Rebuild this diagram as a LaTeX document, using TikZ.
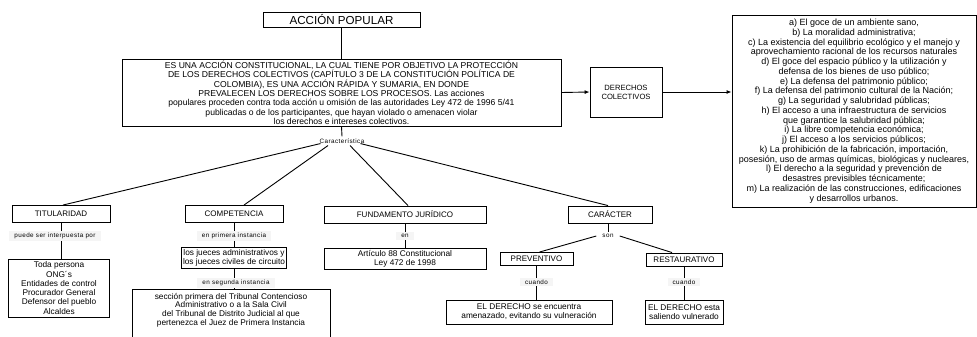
\documentclass[tikz,border=0pt]{standalone}
\usepackage{fontspec}
\setmainfont{Liberation Sans}
\newfontfamily\smallfam[LetterSpace=7]{Liberation Sans}
\usetikzlibrary{arrows.meta,calc}
\begin{document}
\begin{tikzpicture}[x=1pt,y=-1pt,
  bx/.style={draw,line width=0.9pt,fill=white,align=center,inner sep=0pt,font=\fontsize{8.3}{9}\selectfont},
  hd/.style={bx,font=\fontsize{8}{9}\selectfont},
  lbl/.style={fill=black!4,inner xsep=5pt,inner ysep=2pt,font=\smallfam\fontsize{6.3}{7}\selectfont},
  ln/.style={line width=0.9pt},
  arr/.style={ln,-{Latex[length=5pt,width=4pt]}}]
\path[use as bounding box] (0,0) rectangle (977,337);
\clip (0,0) rectangle (977,337);
\fill[white] (0,0) rectangle (977,337);

% top
\node[bx,minimum width=157pt,minimum height=15pt,font=\fontsize{11.6}{12}\selectfont] (title) at (341.5,19.5) {ACCIÓN POPULAR};
\node[bx,minimum width=439pt,minimum height=67pt,font=\fontsize{8.6}{9.2}\selectfont] (main) at (341.5,92.5) {ES UNA ACCIÓN CONSTITUCIONAL, LA CUAL TIENE POR OBJETIVO LA PROTECCIÓN\\DE LOS DERECHOS COLECTIVOS (CAPÍTULO 3 DE LA CONSTITUCIÓN POLÍTICA DE\\COLOMBIA), ES UNA ACCIÓN RÁPIDA Y SUMARIA, EN DONDE\\PREVALECEN LOS DERECHOS SOBRE LOS PROCESOS. Las acciones\\populares proceden contra toda acción u omisión de las autoridades Ley 472 de 1996 5/41\\publicadas o de los participantes, que hayan violado o amenacen violar\\los derechos e intereses colectivos.};
\node[bx,minimum width=72pt,minimum height=50pt,font=\fontsize{7.6}{9}\selectfont] (dc) at (626,92) {DERECHOS\\COLECTIVOS};
\node[bx,minimum width=244pt,minimum height=192pt,font=\fontsize{9}{9.76}\selectfont] (list) at (854,111) {a) El goce de un ambiente sano,\\b) La moralidad administrativa;\\c) La existencia del equilibrio ecológico y el manejo y\\aprovechamiento racional de los recursos naturales\\d) El goce del espacio público y la utilización y\\defensa de los bienes de uso público;\\e) La defensa del patrimonio público;\\f) La defensa del patrimonio cultural de la Nación;\\g) La seguridad y salubridad públicas;\\h) El acceso a una infraestructura de servicios\\que garantice la salubridad pública;\\i) La libre competencia económica;\\j) El acceso a los servicios públicos;\\k) La prohibición de la fabricación, importación,\\posesión, uso de armas químicas, biológicas y nucleares,\\l) El derecho a la seguridad y prevención de\\desastres previsibles técnicamente;\\m) La realización de las construcciones, edificaciones\\y desarrollos urbanos.};
\node[lbl,fill=none,inner xsep=0pt] (carac) at (342,141) {Característica};

% level 2
\node[hd,minimum width=98pt,minimum height=17pt] (tit) at (61,214) {TITULARIDAD};
\node[hd,minimum width=98pt,minimum height=17pt] (comp) at (234,214) {COMPETENCIA};
\node[hd,minimum width=162pt,minimum height=17pt] (fund) at (405,214.5) {FUNDAMENTO JURÍDICO};
\node[hd,minimum width=84pt,minimum height=17pt] (car) at (610,214.5) {CARÁCTER};

% level 3
\node[bx,minimum width=101pt,minimum height=58pt,font=\fontsize{8.3}{9.3}\selectfont] (toda) at (59,288) {Toda persona\\ONG´s\\Entidades de control\\Procurador General\\Defensor del pueblo\\Alcaldes};
\node[bx,minimum width=105pt,minimum height=21pt] (jue) at (234,258) {los jueces administrativos y\\los jueces civiles de circuito};
\node[bx,minimum width=198pt,anchor=north,inner ysep=3.5pt,font=\fontsize{8.3}{8.7}\selectfont] (sec) at (231,289) {sección primera del Tribunal Contencioso\\Administrativo o a la Sala Civil\\del Tribunal de Distrito Judicial al que\\pertenezca el Juez de Primera Instancia\\\mbox{}\\\mbox{}};
\node[bx,minimum width=162pt,minimum height=21pt] (art) at (405,258.5) {Artículo 88 Constitucional\\Ley 472 de 1998};
\node[hd,minimum width=73pt,minimum height=13pt] (prev) at (536.5,259) {PREVENTIVO};
\node[hd,minimum width=76pt,minimum height=13pt] (rest) at (684,259.5) {RESTAURATIVO};
\node[bx,minimum width=166pt,minimum height=24pt] (derp) at (529,312) {EL DERECHO se encuentra\\amenazado, evitando su vulneración};
\node[bx,minimum width=78pt,minimum height=24pt] (derr) at (684,312) {EL DERECHO esta\\saliendo vulnerado};

\node[lbl,fill=white,inner xsep=6pt] (son) at (608,236) {son};

% connectors
\draw[ln] (title.south) -- (main.north);
\draw[ln] (main.south) -- (carac.north);
\draw[arr] (main.east) -- (dc.west);
\draw[arr] (dc.east) -- (dc.east -| list.west);
\draw[ln] ($(carac.south west)+(1,-2)$) -- ($(tit.north)+(2,0)$);
\draw[ln] ($(carac.south)+(-14,0)$) -- ($(comp.north)+(10,0)$);
\draw[ln] ($(carac.south)+(8,0)$) -- ($(fund.north)+(3,0)$);
\draw[ln] ($(carac.south east)+(-4,-2)$) -- ($(car.north)+(-2,0)$);
\draw[ln] (tit.south) -- (tit.south |- toda.north);
\draw[ln] (comp.south) -- (jue.north);
\draw[ln] (jue.south) -- (jue.south |- sec.north);
\draw[ln] (fund.south) -- (art.north);
\draw[ln] (car.south -| son) -- (son.north);
\draw[ln] (son.west) -- ($(prev.north)+(3,0)$);
\draw[ln] (son.east) -- ($(rest.north)+(-12,0)$);
\draw[ln] (prev.south) -- (prev.south |- derp.north);
\draw[ln] (rest.south) -- (derr.north);

% labels on connectors
\node[lbl] (l1) at (55,236) {puede ser interpuesta por};
\node[lbl] (l2) at (234,236) {en primera instancia};
\node[lbl] (l3) at (236,283) {en segunda instancia};
\node[lbl] (l4) at (405,236) {en};
\node[lbl] (l6) at (536.5,282) {cuando};
\node[lbl] (l7) at (684,282) {cuando};
\end{tikzpicture}
\end{document}
